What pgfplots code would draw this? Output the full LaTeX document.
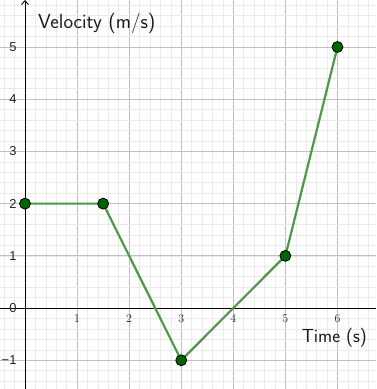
\documentclass[border=0pt]{standalone}
\usepackage{pgfplots}
\pgfplotsset{compat=1.18}
\usepackage{fontspec}
\usetikzlibrary{arrows.meta}
\newfontfamily\tickfont{Liberation Sans}
\definecolor{segcol}{RGB}{80,150,72}
\definecolor{ptcol}{RGB}{0,100,0}
\definecolor{majgrid}{RGB}{192,192,192}
\definecolor{mingrid}{RGB}{234,234,234}

\begin{document}
\begin{tikzpicture}
\begin{axis}[
  scale only axis,
  width=376bp, height=389bp,
  xmin=-0.48, xmax=6.74,
  ymin=-1.55, ymax=5.9,
  axis x line=middle, axis y line=middle,
  axis line style={black, line width=0.9pt},
  x axis line style={-},
  y axis line style={-{Straight Barb[length=4pt,width=7pt]}},
  xtick={1,...,6},
  ytick={-1,...,5},
  yticklabels={−1,0,1,2,3,4,5},
  minor xtick={-0.4,-0.2,...,6.7},
  minor ytick={-1.4,-1.2,...,5.9},
  hide obscured x ticks=false,
  hide obscured y ticks=false,
  grid=both,
  major grid style={draw=majgrid, line width=0.8pt},
  minor grid style={draw=mingrid, line width=0.6pt},
  major tick length=0pt, minor tick length=0pt,
  tick style={draw=none},
  ticklabel style={font=\fontsize{13}{15}\tickfont, text=black!85},
  xticklabel style={anchor=north, yshift=-3pt},
  yticklabel style={anchor=east, xshift=-5pt},
  clip=false,
]
\addplot[segcol, line width=2.2pt,
  mark=*, mark size=5.5pt,
  mark options={fill=ptcol, draw=black, line width=0.8pt}]
  coordinates {(0,2) (1.5,2) (3,-1) (5,1) (6,5)};

\node[anchor=base west, inner sep=0pt, font=\fontsize{20.5}{24}\selectfont\sffamily, text=black!90]
  at (axis description cs:0.101,0.928) {Velocity (m/s)};
\node[anchor=base east, inner sep=0pt, font=\fontsize{19}{23}\selectfont\sffamily, text=black!90]
  at (axis description cs:0.976,0.1183) {Time (s)};
\end{axis}
\pgfresetboundingbox
\useasboundingbox (current axis.south west) rectangle (current axis.north east);
\end{tikzpicture}
\end{document}
